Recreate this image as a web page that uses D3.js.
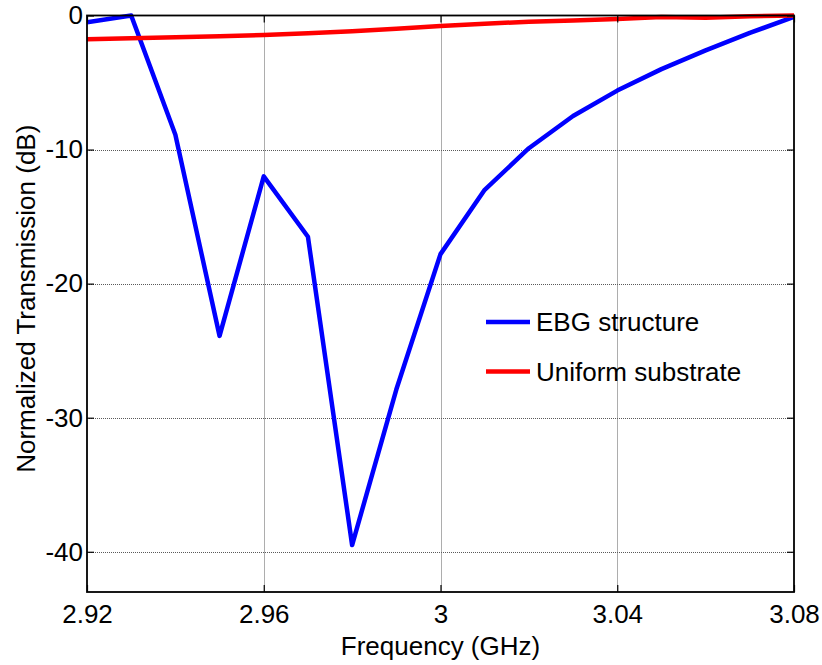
<!DOCTYPE html>
<html>
<head>
<meta charset="utf-8">
<script src="https://cdn.jsdelivr.net/npm/d3@7/dist/d3.min.js"></script>
<style>
  html, body { margin: 0; padding: 0; background: #fff; }
  svg { display: block; font-family: "Liberation Sans", Arial, sans-serif; }
</style>
</head>
<body>
<svg id="chart" width="822" height="665"></svg>
<script>
// Frequency sweep (GHz)
const frequency = [2.92, 2.93, 2.94, 2.95, 2.96, 2.97, 2.98, 2.99, 3.00,
                   3.01, 3.02, 3.03, 3.04, 3.05, 3.06, 3.07, 3.08];
// Normalized transmission (dB)
const ebgStructure = [-0.5, 0.0, -8.9, -23.9, -12.0, -16.5, -39.5, -27.9, -17.8,
                      -13.0, -9.9, -7.5, -5.6, -4.0, -2.6, -1.3, -0.1];
const uniformSubstrate = [-1.78, -1.7, -1.63, -1.55, -1.45, -1.33, -1.17, -0.98, -0.79,
                          -0.62, -0.46, -0.37, -0.26, -0.12, -0.17, -0.05, 0.0];

const xTicks = [2.92, 2.96, 3.00, 3.04, 3.08];
const xTickLabels = ["2.92", "2.96", "3", "3.04", "3.08"];
const yTicks = [0, -10, -20, -30, -40];
const yTickLabels = ["0", "-10", "-20", "-30", "-40"];

const seriesNames = ["EBG structure", "Uniform substrate"];
const seriesColors = ["#0000ff", "#ff0000"];

const svg = d3.select("#chart");
const plot = { left: 87, right: 794, top: 15.5, bottom: 592 };
const fontSize = 26;

const x = d3.scaleLinear().domain([2.92, 3.08]).range([plot.left, plot.right]);
const y = d3.scaleLinear().domain([-43, 0]).range([plot.bottom, plot.top]);

// grid lines (dotted)
const grid = svg.append("g");
grid.selectAll("line.gx")
  .data(xTicks.slice(1, -1))
  .join("line")
  .attr("x1", d => Math.round(x(d)) + 0.5).attr("x2", d => Math.round(x(d)) + 0.5)
  .attr("y1", plot.top).attr("y2", plot.bottom)
  .attr("stroke", "#5a5a5a").attr("stroke-width", 1).attr("stroke-dasharray", "1,1");
grid.selectAll("line.gy")
  .data(yTicks.slice(1))
  .join("line")
  .attr("y1", d => Math.round(y(d)) + 0.5).attr("y2", d => Math.round(y(d)) + 0.5)
  .attr("x1", plot.left).attr("x2", plot.right)
  .attr("stroke", "#5a5a5a").attr("stroke-width", 1).attr("stroke-dasharray", "1,1");

// data lines
const line = d3.line().x((d, i) => x(frequency[i])).y(d => y(d));
svg.append("clipPath").attr("id", "clip")
  .append("rect").attr("x", plot.left).attr("y", plot.top - 3)
  .attr("width", plot.right - plot.left).attr("height", plot.bottom - plot.top + 3);

[ebgStructure, uniformSubstrate].forEach((vals, k) => {
  svg.append("path")
    .attr("d", line(vals))
    .attr("fill", "none")
    .attr("stroke", seriesColors[k])
    .attr("stroke-width", 4.5)
    .attr("stroke-linejoin", "round")
    .attr("clip-path", "url(#clip)");
});

// axes with inward ticks on all four sides
const tickLen = 7;
const xBottom = d3.axisBottom(x).tickValues(xTicks)
  .tickFormat((d, i) => xTickLabels[i]).tickSizeInner(-tickLen).tickSizeOuter(0).tickPadding(13);
const xTop = d3.axisTop(x).tickValues(xTicks).tickFormat("").tickSizeInner(-tickLen).tickSizeOuter(0);
const yLeft = d3.axisLeft(y).tickValues(yTicks)
  .tickFormat((d, i) => yTickLabels[i]).tickSizeInner(-tickLen).tickSizeOuter(0).tickPadding(4);
const yRight = d3.axisRight(y).tickValues(yTicks).tickFormat("").tickSizeInner(-tickLen).tickSizeOuter(0);

function styleAxis(g) {
  g.select(".domain").remove();
  g.selectAll(".tick line").attr("stroke", "#000").attr("stroke-width", 1.2);
  g.selectAll(".tick text").attr("fill", "#000").style("font-size", fontSize + "px")
    .style("font-family", "'Liberation Sans', Arial, sans-serif");
}

svg.append("g").attr("transform", `translate(0,${plot.bottom})`).call(xBottom).call(styleAxis);
svg.append("g").attr("transform", `translate(0,${plot.top})`).call(xTop).call(styleAxis);
svg.append("g").attr("transform", `translate(${plot.left},0)`).call(yLeft).call(styleAxis);
svg.append("g").attr("transform", `translate(${plot.right},0)`).call(yRight).call(styleAxis);

// axes box
svg.append("rect")
  .attr("x", plot.left).attr("y", plot.top)
  .attr("width", plot.right - plot.left).attr("height", plot.bottom - plot.top)
  .attr("fill", "none").attr("stroke", "#000").attr("stroke-width", 1.8);

// axis titles
svg.append("text")
  .attr("x", (plot.left + plot.right) / 2).attr("y", 655)
  .attr("text-anchor", "middle").style("font-size", fontSize + "px")
  .text("Frequency (GHz)");
svg.append("text")
  .attr("transform", `translate(35,${(plot.top + plot.bottom) / 2 - 5}) rotate(-90)`)
  .attr("text-anchor", "middle").style("font-size", fontSize + "px")
  .text("Normalized Transmission (dB)");

// legend
const legend = svg.append("g");
seriesNames.forEach((name, k) => {
  const ly = 322 + k * 49.5;
  legend.append("line")
    .attr("x1", 486).attr("x2", 530).attr("y1", ly).attr("y2", ly)
    .attr("stroke", seriesColors[k]).attr("stroke-width", 4.5);
  legend.append("text")
    .attr("x", 536).attr("y", ly).attr("dy", "0.35em")
    .style("font-size", fontSize + "px")
    .text(name);
});
</script>
</body>
</html>
